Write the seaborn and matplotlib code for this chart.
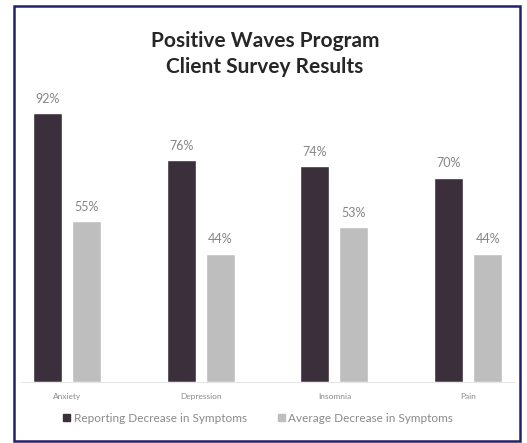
import pandas as pd
import matplotlib.pyplot as plt
import seaborn as sns
from matplotlib.patches import Rectangle

# Dados
categories = ['Anxiety', 'Depression', 'Insomnia', 'Pain']
reporting_decrease = [92, 76, 74, 70]
average_decrease = [55, 44, 53, 44]
series_names = ['Reporting Decrease in Symptoms', 'Average Decrease in Symptoms']
series_colors = ['#3b2f3b', '#bebebe']

df = pd.DataFrame({
    'Category': categories,
    series_names[0]: reporting_decrease,
    series_names[1]: average_decrease,
})
df_long = df.melt(id_vars='Category', var_name='Series', value_name='Value')

sns.set_style('white')
plt.rcParams['font.family'] = ['Lato', 'DejaVu Sans']

fig = plt.figure(figsize=(5.27, 4.43), dpi=100)
ax = fig.add_axes([0.0406, 0.1377, 0.934, 0.659])

sns.barplot(data=df_long, x='Category', y='Value', hue='Series',
            palette=series_colors, width=0.584, gap=0.26,
            order=categories, hue_order=series_names, ax=ax,
            saturation=1, legend=False)

for container in ax.containers:
    ax.bar_label(container, fmt='%d%%', padding=6, fontsize=9, color='#858585')

ax.set_xlim(-0.34, 3.34)
ax.set_ylim(0, 100)
ax.set_xlabel('')
ax.set_ylabel('')
ax.set_yticks([])
ax.tick_params(axis='x', length=0, labelsize=6, colors='#8a8a8a', pad=8)
for side in ['top', 'left', 'right']:
    ax.spines[side].set_visible(False)
ax.spines['bottom'].set_color('#e6e6e6')
ax.spines['bottom'].set_linewidth(0.8)

# Legenda
handles = [Rectangle((0, 0), 1, 1, color=c) for c in series_colors]
fig.legend(handles, series_names, loc='center', bbox_to_anchor=(0.49, 0.056),
           ncol=2, frameon=False, fontsize=8.5, labelcolor='#8a8a8a',
           handlelength=0.6, handleheight=0.6, handletextpad=0.3,
           columnspacing=2.6)

# Título
fig.text(0.503, 0.878, 'Positive Waves Program\nClient Survey Results',
         ha='center', va='center', fontsize=15, fontweight='bold',
         color='#262626', linespacing=1.35)

# Moldura
fig.patches.append(Rectangle((14 / 527, 1 - 441 / 443), 506 / 527, 435 / 443,
                             transform=fig.transFigure, fill=False,
                             edgecolor='#22226a', linewidth=1.8))

plt.savefig('out.png', dpi=100)
